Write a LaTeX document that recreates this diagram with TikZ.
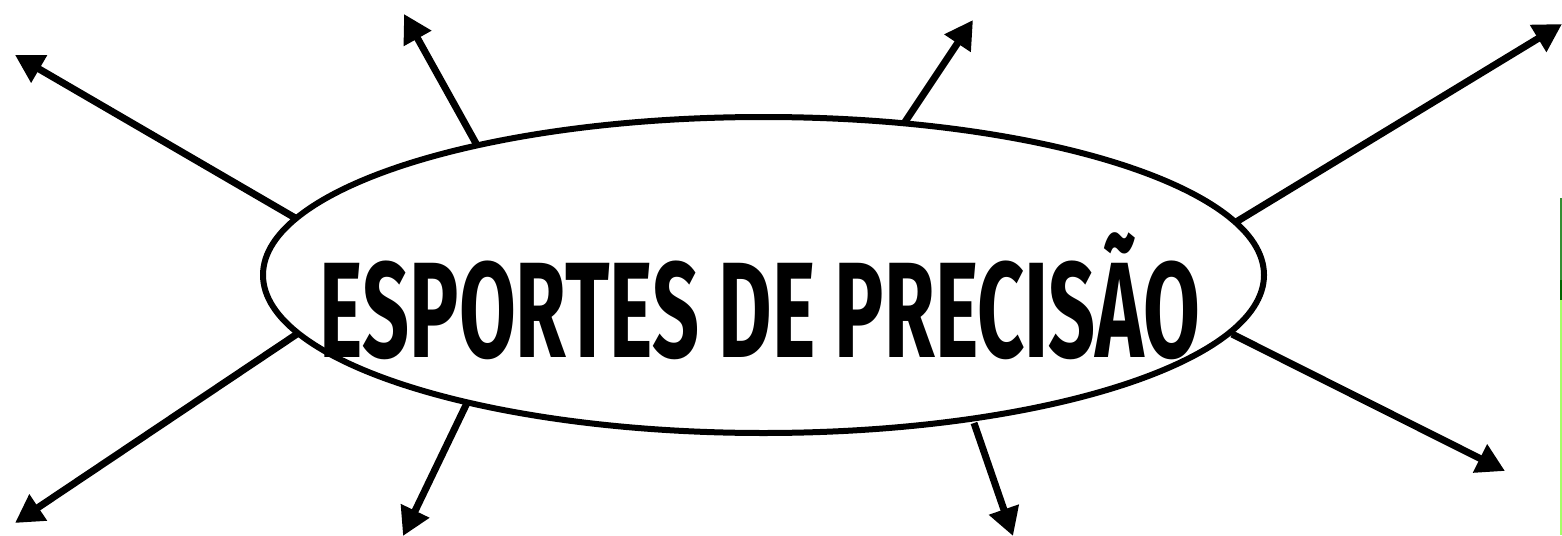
\documentclass[tikz,border=0pt]{standalone}
\usepackage{fontspec}
\setmainfont{Fira Sans}
\usetikzlibrary{arrows.meta,shapes.geometric}
\tikzset{
  spoke/.style={line width=7pt,-{Triangle[length=28pt,width=30pt]}},
  hub/.style={draw,line width=6pt,ellipse,minimum width=1001pt,minimum height=316pt,inner sep=0pt}
}
\begin{document}
\begin{tikzpicture}[x=1pt,y=-1pt]
\useasboundingbox (0,0) rectangle (1562,535);
\node[hub] (e) at (763.5,275) {};
\node[anchor=base,inner sep=0pt] (t) at (760,357)
  {\resizebox{880pt}{\height}{\fontsize{136pt}{140pt}\selectfont\bfseries ESPORTES DE PRECISÃO}};
% start points on the ellipse
\coordinate (s1) at (297,219);
\coordinate (s2) at (478,147);
\coordinate (s3) at (905,122);
\coordinate (s4) at (1236,222);
\coordinate (s5) at (297,334);
\coordinate (s6) at (467,403);
\coordinate (s7) at (974,423);
\coordinate (s8) at (1232,334);
% tips
\coordinate (p1) at (15,55);
\coordinate (p2) at (404,14);
\coordinate (p3) at (973,20);
\coordinate (p4) at (1562,24);
\coordinate (p5) at (15,523);
\coordinate (p6) at (403,536);
\coordinate (p7) at (1013,536);
\coordinate (p8) at (1505,471);
\foreach \i in {1,...,8} \draw[spoke] (s\i) -- (p\i);
% green strip at right edge
\fill[green!45!lime!60!white] (1559.5,198) rectangle (1562,535);
\fill[black!40!green!60!gray] (1559.5,198) rectangle (1562,280);
\fill[green!40!black] (1559.5,280) rectangle (1562,300);
\end{tikzpicture}
\end{document}
